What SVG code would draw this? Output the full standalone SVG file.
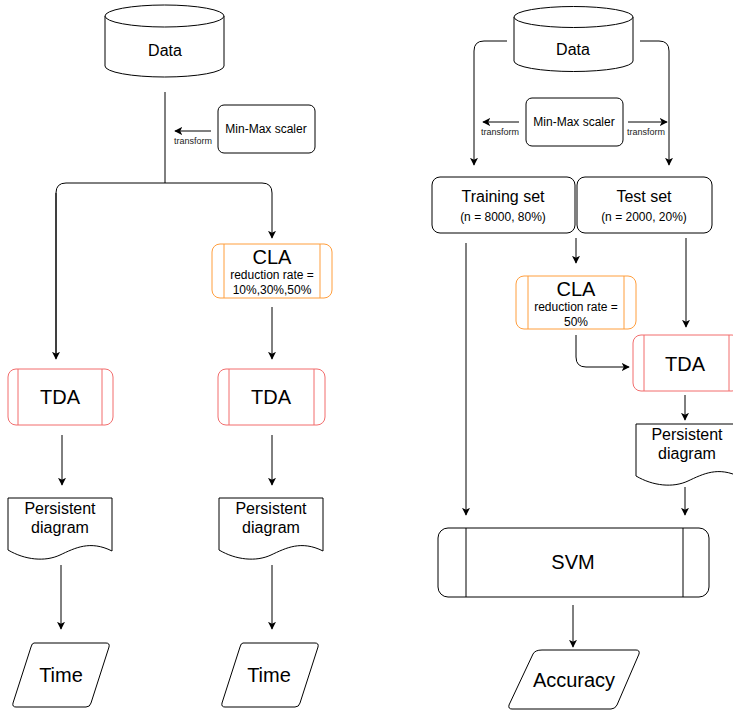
<svg xmlns="http://www.w3.org/2000/svg" width="733" height="713" viewBox="0 0 733 713">
<style>
text{font-family:"Liberation Sans",Arial,sans-serif;fill:#000;text-anchor:middle}
.n{fill:#fff;stroke:#000;stroke-width:1}
.cla{fill:#fff;stroke:#FF9E3D;stroke-width:1}
.tda{fill:#fff;stroke:#F26D6D;stroke-width:1}
.cn{fill:none;stroke:#000;stroke-width:1}
.big{font-size:20px}
.mid{font-size:16px}
.sm{font-size:12px}
.ms{font-size:12px}
.xs{font-size:9px;fill:#222}
</style>
<defs>
<marker id="ah" viewBox="0 0 10 10" refX="9" refY="5" markerWidth="8" markerHeight="8" markerUnits="userSpaceOnUse" orient="auto">
<path d="M0,0 L10,5 L0,10 L2.5,5 z" fill="#000"/>
</marker>
</defs>
<g id="connectors">
<path class="cn" d="M165,92 V183"/>
<path class="cn" d="M56,358 V193 Q56,183 66,183 H262 Q272,183 272,193 V238" marker-end="url(#ah)"/>
<path class="cn" d="M56,193 V359" marker-end="url(#ah)"/>
<path class="cn" d="M211,131 H175" marker-end="url(#ah)"/>
<path class="cn" d="M272,307 V359" marker-end="url(#ah)"/>
<path class="cn" d="M62,435 V485" marker-end="url(#ah)"/>
<path class="cn" d="M272,435 V485" marker-end="url(#ah)"/>
<path class="cn" d="M61,565 V629" marker-end="url(#ah)"/>
<path class="cn" d="M272,565 V629" marker-end="url(#ah)"/>
<path class="cn" d="M507,41 H484 Q474,41 474,51 V165" marker-end="url(#ah)"/>
<path class="cn" d="M640,41 H659 Q669,41 669,51 V165" marker-end="url(#ah)"/>
<path class="cn" d="M519,122 H483" marker-end="url(#ah)"/>
<path class="cn" d="M628,122 H667" marker-end="url(#ah)"/>
<path class="cn" d="M466,243 V515" marker-end="url(#ah)"/>
<path class="cn" d="M576,238 V263" marker-end="url(#ah)"/>
<path class="cn" d="M686,238 V327" marker-end="url(#ah)"/>
<path class="cn" d="M576,335 V357 Q576,367 586,367 H629" marker-end="url(#ah)"/>
<path class="cn" d="M685,395 V420" marker-end="url(#ah)"/>
<path class="cn" d="M685,487 V515" marker-end="url(#ah)"/>
<path class="cn" d="M573,605 V647" marker-end="url(#ah)"/>
<text class="xs" x="193" y="144">transform</text>
<text class="xs" x="500" y="135">transform</text>
<text class="xs" x="646" y="135">transform</text>
</g>
<g id="data-left">
<path class="n" d="M105,16 A59.5,11 0 0 1 224,16 V66 A59.5,11 0 0 1 105,66 Z"/>
<path class="n" fill="none" d="M105,16 A59.5,11 0 0 0 224,16"/>
<text class="mid" x="165" y="56">Data</text>
</g>
<g id="scaler-left">
<rect class="n" x="218" y="105" width="97" height="48" rx="6"/>
<text class="ms" x="266" y="133">Min-Max scaler</text>
</g>
<g id="cla-left">
<rect class="cla" x="212" y="244" width="120" height="54" rx="8"/>
<path class="cla" d="M224,244 V298 M320,244 V298"/>
<text class="big" x="272" y="264">CLA</text>
<text class="sm" x="272" y="279">reduction rate =</text>
<text class="sm" x="272" y="294">10%,30%,50%</text>
</g>
<g id="tda-left">
<rect class="tda" x="8" y="369" width="105" height="56" rx="8"/>
<path class="tda" d="M18,369 V425 M102,369 V425"/>
<text class="big" x="60" y="404">TDA</text>
</g>
<g id="tda-mid">
<rect class="tda" x="218" y="369" width="107" height="56" rx="8"/>
<path class="tda" d="M229,369 V425 M314,369 V425"/>
<text class="big" x="271" y="404">TDA</text>
</g>
<g id="pd-left">
<path class="n" d="M8,498 H112 V551 C90,540 75,548 60,555 C45,562 25,560 8,550 Z"/>
<text class="mid" x="60" y="514">Persistent</text>
<text class="mid" x="60" y="533">diagram</text>
</g>
<g id="pd-mid">
<path class="n" d="M219,498 H323 V551 C301,540 286,548 271,555 C256,562 236,560 219,550 Z"/>
<text class="mid" x="271" y="514">Persistent</text>
<text class="mid" x="271" y="533">diagram</text>
</g>
<g id="time-left">
<path class="n" d="M34,643 H106 Q110,643 109,647 L91,703 Q90,707 86,707 H16 Q12,707 13,703 L31,647 Q32,643 34,643 Z"/>
<text class="big" x="61" y="682">Time</text>
</g>
<g id="time-mid">
<path class="n" d="M243,643 H315 Q319,643 318,647 L300,703 Q299,707 295,707 H225 Q221,707 222,703 L240,647 Q241,643 243,643 Z"/>
<text class="big" x="269" y="682">Time</text>
</g>
<g id="data-right">
<path class="n" d="M514,17 A59.5,10.5 0 0 1 633,17 V61 A59.5,10.5 0 0 1 514,61 Z"/>
<path class="n" fill="none" d="M514,17 A59.5,10.5 0 0 0 633,17"/>
<text class="mid" x="573" y="55">Data</text>
</g>
<g id="scaler-right">
<rect class="n" x="526" y="98" width="97" height="48" rx="6"/>
<text class="ms" x="574" y="126">Min-Max scaler</text>
</g>
<g id="training">
<rect class="n" x="432" y="177" width="143" height="56" rx="8"/>
<text class="mid" x="503" y="202">Training set</text>
<text class="sm" x="503" y="221">(n = 8000, 80%)</text>
</g>
<g id="test">
<rect class="n" x="577" y="177" width="135" height="56" rx="8"/>
<text class="mid" x="644" y="202">Test set</text>
<text class="sm" x="644" y="221">(n = 2000, 20%)</text>
</g>
<g id="cla-right">
<rect class="cla" x="516" y="276" width="120" height="53" rx="8"/>
<path class="cla" d="M528,276 V329 M624,276 V329"/>
<text class="big" x="576" y="296">CLA</text>
<text class="sm" x="576" y="311">reduction rate =</text>
<text class="sm" x="576" y="326">50%</text>
</g>
<g id="tda-right">
<rect class="tda" x="633" y="335" width="107" height="56" rx="8"/>
<path class="tda" d="M644,335 V391 M729,335 V391"/>
<text class="big" x="685" y="371">TDA</text>
</g>
<g id="pd-right">
<path class="n" d="M636,424 H740 V477 C718,466 703,474 688,481 C673,488 653,486 636,476 Z"/>
<text class="mid" x="687" y="440">Persistent</text>
<text class="mid" x="687" y="459">diagram</text>
</g>
<g id="svm">
<rect class="n" x="438" y="528" width="271" height="69" rx="10"/>
<path class="n" d="M466,528 V597 M683,528 V597"/>
<text class="big" x="573" y="569">SVM</text>
</g>
<g id="accuracy">
<path class="n" d="M542,650 H636 Q640,650 639,654 L617,705 Q615,709 611,709 H512 Q508,709 509,705 L533,654 Q535,650 542,650 Z"/>
<text class="big" x="574" y="687">Accuracy</text>
</g>
</svg>
